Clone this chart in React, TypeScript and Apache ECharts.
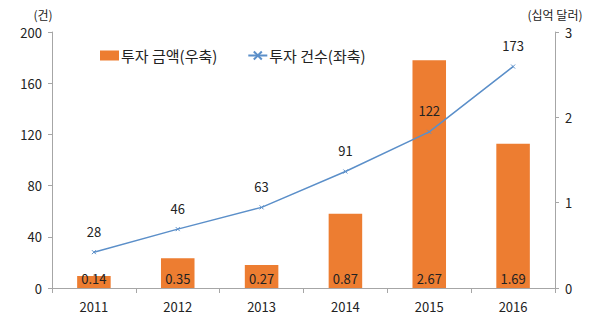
import React, { useEffect, useRef } from "react";
import * as echarts from "echarts";

const years = ["2011", "2012", "2013", "2014", "2015", "2016"];
const investAmount = [0.14, 0.35, 0.27, 0.87, 2.67, 1.69];
const investCount = [28, 46, 63, 91, 122, 173];
const leftTicks = { min: 0, max: 200, interval: 40 };
const rightTicks = { min: 0, max: 3, interval: 1 };

const FONT = "'Noto Sans CJK KR', 'Noto Sans', sans-serif";

export default function App() {
  const ref = useRef<HTMLDivElement>(null);
  useEffect(() => {
    if (!ref.current) return;
    const chart = echarts.init(ref.current, undefined, { renderer: "svg" });
    const axisColor = "#a6a6a6";
    chart.setOption({
      animation: false,
      backgroundColor: "#ffffff",
      textStyle: { fontFamily: FONT },
      grid: { left: 52, right: 45, top: 32, bottom: 42 },
      legend: {
        top: 43,
        left: 95,
        itemGap: 30,
        itemWidth: 19,
        itemHeight: 10,
        textStyle: { fontFamily: FONT, fontSize: 15, color: "#222", padding: [0, 0, 0, -3] },
        data: [
          { name: "투자 금액(우축)", icon: "rect", itemStyle: { color: "#ed7d31" } },
          { name: "투자 건수(좌축)" },
        ],
      },
      xAxis: {
        type: "category",
        data: years,
        axisLine: { lineStyle: { color: axisColor } },
        axisTick: { show: true, alignWithLabel: false, lineStyle: { color: axisColor } },
        axisLabel: { color: "#222", fontSize: 13, fontFamily: FONT, margin: 12 },
      },
      yAxis: [
        {
          type: "value",
          min: leftTicks.min,
          max: leftTicks.max,
          interval: leftTicks.interval,
          position: "left",
          name: "(건)",
          nameGap: 12,
          nameTextStyle: { fontSize: 12, color: "#222", fontFamily: FONT, padding: [0, 18, 0, 0] },
          axisLine: { show: true, lineStyle: { color: axisColor } },
          axisTick: { show: true, length: 4, lineStyle: { color: axisColor } },
          axisLabel: { color: "#222", fontSize: 13, fontFamily: FONT, margin: 10 },
          splitLine: { show: false },
        },
        {
          type: "value",
          min: rightTicks.min,
          max: rightTicks.max,
          interval: rightTicks.interval,
          position: "right",
          name: "(십억 달러)",
          nameGap: 12,
          nameTextStyle: { fontSize: 12, color: "#222", fontFamily: FONT },
          axisLine: { show: true, lineStyle: { color: axisColor } },
          axisTick: { show: true, length: 4, lineStyle: { color: axisColor } },
          axisLabel: { color: "#222", fontSize: 13, fontFamily: FONT, margin: 10 },
          splitLine: { show: false },
        },
      ],
      series: [
        {
          name: "투자 금액(우축)",
          type: "bar",
          yAxisIndex: 1,
          data: investAmount,
          barWidth: "40%",
          itemStyle: { color: "#ed7d31" },
          label: {
            show: true,
            position: "insideBottom",
            distance: 3,
            color: "#222",
            fontSize: 13,
            fontFamily: FONT,
          },
        },
        {
          name: "투자 건수(좌축)",
          type: "line",
          yAxisIndex: 0,
          data: investCount,
          symbol: "path://M0,0L10,10M10,0L0,10",
          symbolSize: 4,
          itemStyle: { color: "#5b8fc9", borderColor: "#5b8fc9", borderWidth: 1 },
          lineStyle: { color: "#5b8fc9", width: 1.5 },
          label: {
            show: true,
            position: "top",
            distance: 12,
            color: "#222",
            fontSize: 13,
            fontFamily: FONT,
          },
        },
      ],
    });
    return () => chart.dispose();
  }, []);
  return (
    <div
      ref={ref}
      style={{ position: "fixed", left: 0, top: 0, width: 600, height: 330, background: "#fff" }}
    />
  );
}
